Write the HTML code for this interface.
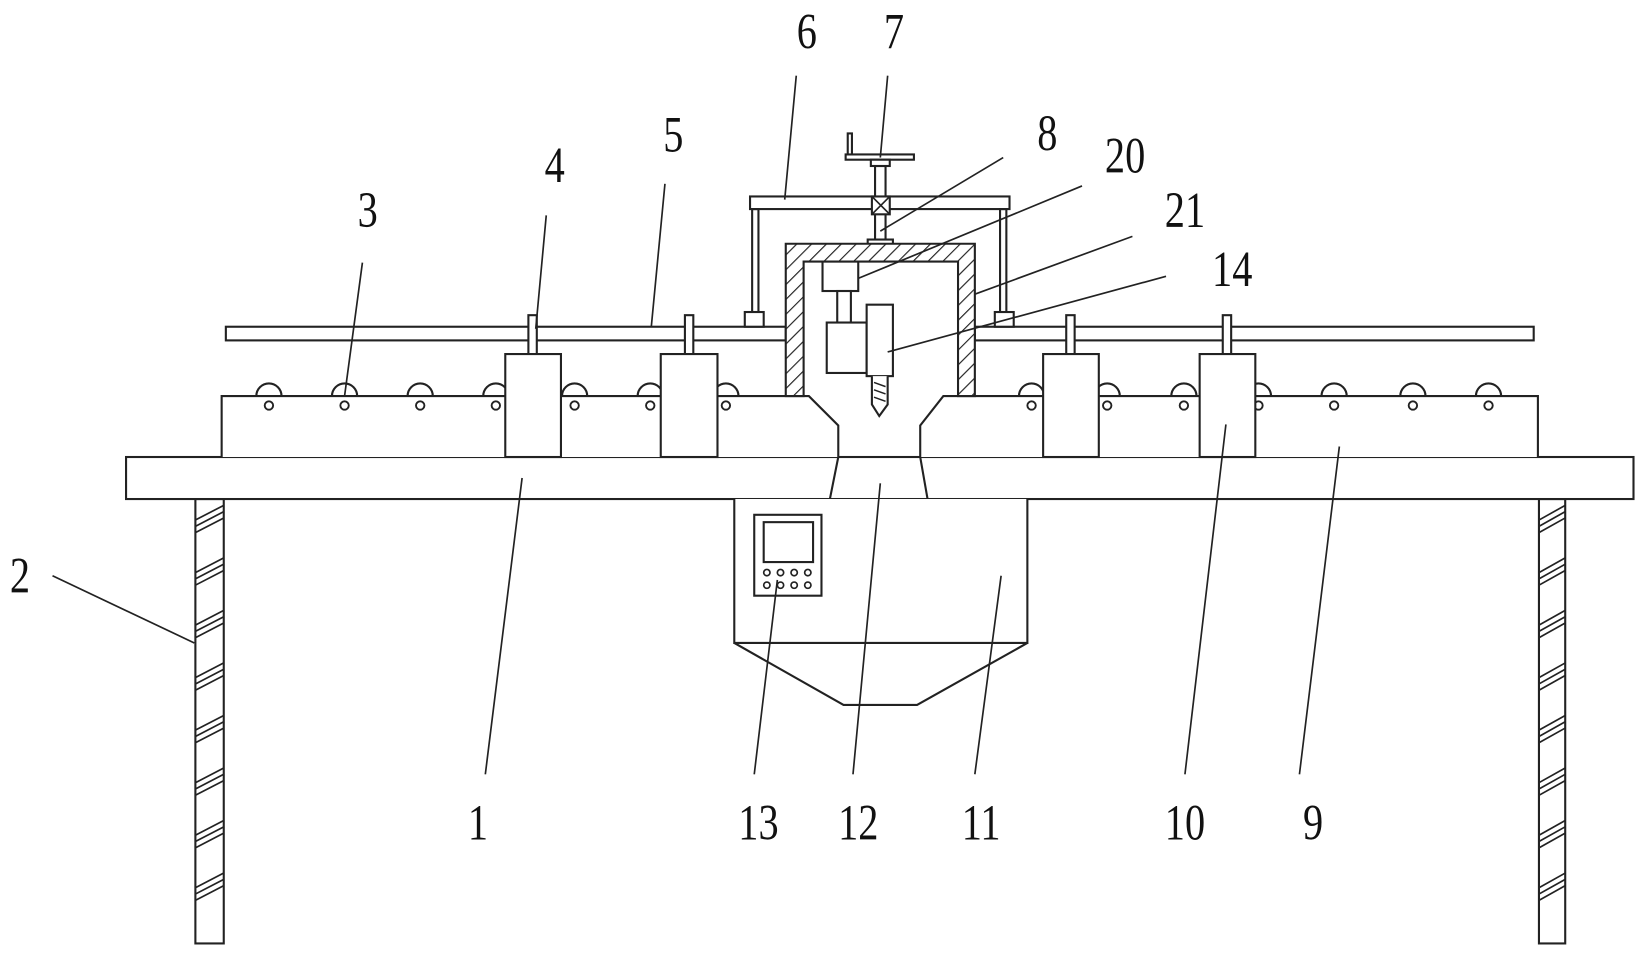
<!DOCTYPE html>
<html><head><meta charset="utf-8"><style>
html,body{margin:0;padding:0;background:#fff;}
svg{display:block;}
text{font-family:"Liberation Serif",serif;font-size:48px;fill:#111;}
</style></head><body>
<svg width="1644" height="955" viewBox="0 0 1565 909" preserveAspectRatio="none" xmlns="http://www.w3.org/2000/svg">
<defs>
<pattern id="h" patternUnits="userSpaceOnUse" width="10" height="10" patternTransform="rotate(45)">
<rect width="10" height="10" fill="#fff"/><line x1="0" y1="0" x2="0" y2="10" stroke="#222" stroke-width="2.2"/>
</pattern>
</defs>
<g fill="none" stroke="#222" stroke-width="2">
<!-- legs -->
<rect x="186" y="475" width="27" height="423" fill="#fff"/>
<rect x="1465" y="475" width="25" height="423" fill="#fff"/>
<g stroke-width="1.6">
<path d="M186 495l27-14M186 501l27-14M186 507l27-14
M186 545l27-14M186 551l27-14M186 557l27-14
M186 595l27-14M186 601l27-14M186 607l27-14
M186 645l27-14M186 651l27-14M186 657l27-14
M186 695l27-14M186 701l27-14M186 707l27-14
M186 745l27-14M186 751l27-14M186 757l27-14
M186 795l27-14M186 801l27-14M186 807l27-14
M186 845l27-14M186 851l27-14M186 857l27-14"/>
<path d="M1465 495l25-14M1465 501l25-14M1465 507l25-14
M1465 545l25-14M1465 551l25-14M1465 557l25-14
M1465 595l25-14M1465 601l25-14M1465 607l25-14
M1465 645l25-14M1465 651l25-14M1465 657l25-14
M1465 695l25-14M1465 701l25-14M1465 707l25-14
M1465 745l25-14M1465 751l25-14M1465 757l25-14
M1465 795l25-14M1465 801l25-14M1465 807l25-14
M1465 845l25-14M1465 851l25-14M1465 857l25-14"/>
</g>
<!-- table -->
<rect x="120" y="435" width="1435" height="40" fill="#fff"/>
<!-- channel 12 -->
<path d="M798 435L790 475M876 435L883 475"/>
<!-- rollers -->
<g>
<path d="M244 377a12 12 0 0 1 24 0M316 377a12 12 0 0 1 24 0M388 377a12 12 0 0 1 24 0M460 377a12 12 0 0 1 24 0M535 377a12 12 0 0 1 24 0M607 377a12 12 0 0 1 24 0M679 377a12 12 0 0 1 24 0M970 377a12 12 0 0 1 24 0M1042 377a12 12 0 0 1 24 0M1115 377a12 12 0 0 1 24 0M1186 377a12 12 0 0 1 24 0M1258 377a12 12 0 0 1 24 0M1333 377a12 12 0 0 1 24 0M1405 377a12 12 0 0 1 24 0"/>
</g>
<!-- conveyors -->
<path d="M211 435V377H770L798 405V435" fill="#fff"/>
<path d="M1464 435V377H898L876 405V435" fill="#fff"/>
<g stroke-width="1.8">
<circle cx="256" cy="386" r="4"/><circle cx="328" cy="386" r="4"/><circle cx="400" cy="386" r="4"/><circle cx="472" cy="386" r="4"/><circle cx="547" cy="386" r="4"/><circle cx="619" cy="386" r="4"/><circle cx="691" cy="386" r="4"/>
<circle cx="982" cy="386" r="4"/><circle cx="1054" cy="386" r="4"/><circle cx="1127" cy="386" r="4"/><circle cx="1198" cy="386" r="4"/><circle cx="1270" cy="386" r="4"/><circle cx="1345" cy="386" r="4"/><circle cx="1417" cy="386" r="4"/>
</g>
<!-- rail 5 -->
<rect x="215" y="311" width="533" height="13" fill="#fff"/>
<rect x="928" y="311" width="532" height="13" fill="#fff"/>
<!-- pins -->
<rect x="503" y="300" width="8" height="37" fill="#fff"/>
<rect x="652" y="300" width="8" height="37" fill="#fff"/>
<rect x="1015" y="300" width="8" height="37" fill="#fff"/>
<rect x="1164" y="300" width="8" height="37" fill="#fff"/>
<!-- blocks -->
<rect x="481" y="337" width="53" height="98" fill="#fff"/>
<rect x="629" y="337" width="54" height="98" fill="#fff"/>
<rect x="993" y="337" width="53" height="98" fill="#fff"/>
<rect x="1142" y="337" width="53" height="98" fill="#fff"/>
<!-- frame 6 -->
<rect x="714" y="187" width="247" height="12" fill="#fff"/>
<rect x="716" y="199" width="6" height="98"/>
<rect x="952" y="199" width="6" height="98"/>
<rect x="709" y="297" width="18" height="14" fill="#fff"/>
<rect x="947" y="297" width="18" height="14" fill="#fff"/>
<!-- screw 7 -->
<rect x="833" y="158" width="10" height="71" fill="#fff"/>
<rect x="805" y="147" width="65" height="5" fill="#fff"/>
<rect x="807" y="127" width="4" height="20" fill="#fff"/>
<rect x="829" y="152" width="18" height="6" fill="#fff"/>
<rect x="830" y="187" width="17" height="17" fill="#fff"/>
<path d="M830 187l17 17M847 187l-17 17" stroke-width="1.6"/>
<rect x="826" y="228" width="24" height="5" fill="#fff"/>
<!-- housing 21 -->
<path d="M748 377V232H928V377H912V249H765V377Z" fill="url(#h)"/>
<!-- motor 20 -->
<rect x="783" y="249" width="34" height="28" fill="#fff"/>
<rect x="797" y="277" width="13" height="30" fill="#fff"/>
<rect x="787" y="307" width="38" height="48" fill="#fff"/>
<rect x="825" y="290" width="25" height="68" fill="#fff"/>
<path d="M830 358V385L837 396L845 385V358" fill="#fff"/>
<path d="M832 364l11 4M832 371l11 4M832 378l11 4" stroke-width="1.4"/>
<!-- hopper 11 -->
<path d="M699 475V612H978V475" fill="#fff"/>
<path d="M699 612L803 671H873L978 612"/>
<!-- panel 13 -->
<rect x="718" y="490" width="64" height="77"/>
<rect x="727" y="497" width="47" height="38"/>
<g stroke-width="1.6">
<circle cx="730" cy="545" r="3"/><circle cx="743" cy="545" r="3"/><circle cx="756" cy="545" r="3"/><circle cx="769" cy="545" r="3"/>
<circle cx="730" cy="557" r="3"/><circle cx="743" cy="557" r="3"/><circle cx="756" cy="557" r="3"/><circle cx="769" cy="557" r="3"/>
</g>
<!-- leaders -->
<g stroke-width="1.6">
<path d="M758 72L747 190M845 72L838 150M633 175L620 311M520 205L510 313M345 250L328 377M955 150L838 220M1030 177L817 265M1078 225L928 280M1110 263L845 335M50 548L185 612M462 737L497 455M718 737L740 552M812 737L838 460M928 737L953 548M1128 737L1167 404M1237 737L1275 425"/>
</g>
</g>
<g>
<text transform="translate(768,46) scale(0.8,1)" text-anchor="middle">6</text>
<text transform="translate(851,46) scale(0.8,1)" text-anchor="middle">7</text>
<text transform="translate(641,144) scale(0.8,1)" text-anchor="middle">5</text>
<text transform="translate(528,173) scale(0.8,1)" text-anchor="middle">4</text>
<text transform="translate(350,216) scale(0.8,1)" text-anchor="middle">3</text>
<text transform="translate(997,143) scale(0.8,1)" text-anchor="middle">8</text>
<text transform="translate(1071,164) scale(0.8,1)" text-anchor="middle">20</text>
<text transform="translate(1128,216) scale(0.8,1)" text-anchor="middle">21</text>
<text transform="translate(1173,272) scale(0.8,1)" text-anchor="middle">14</text>
<text transform="translate(19,564) scale(0.8,1)" text-anchor="middle">2</text>
<text transform="translate(455,799) scale(0.8,1)" text-anchor="middle">1</text>
<text transform="translate(722,799) scale(0.8,1)" text-anchor="middle">13</text>
<text transform="translate(817,799) scale(0.8,1)" text-anchor="middle">12</text>
<text transform="translate(934,799) scale(0.8,1)" text-anchor="middle">11</text>
<text transform="translate(1128,799) scale(0.8,1)" text-anchor="middle">10</text>
<text transform="translate(1250,799) scale(0.8,1)" text-anchor="middle">9</text>
</g>
</svg>
</body></html>
